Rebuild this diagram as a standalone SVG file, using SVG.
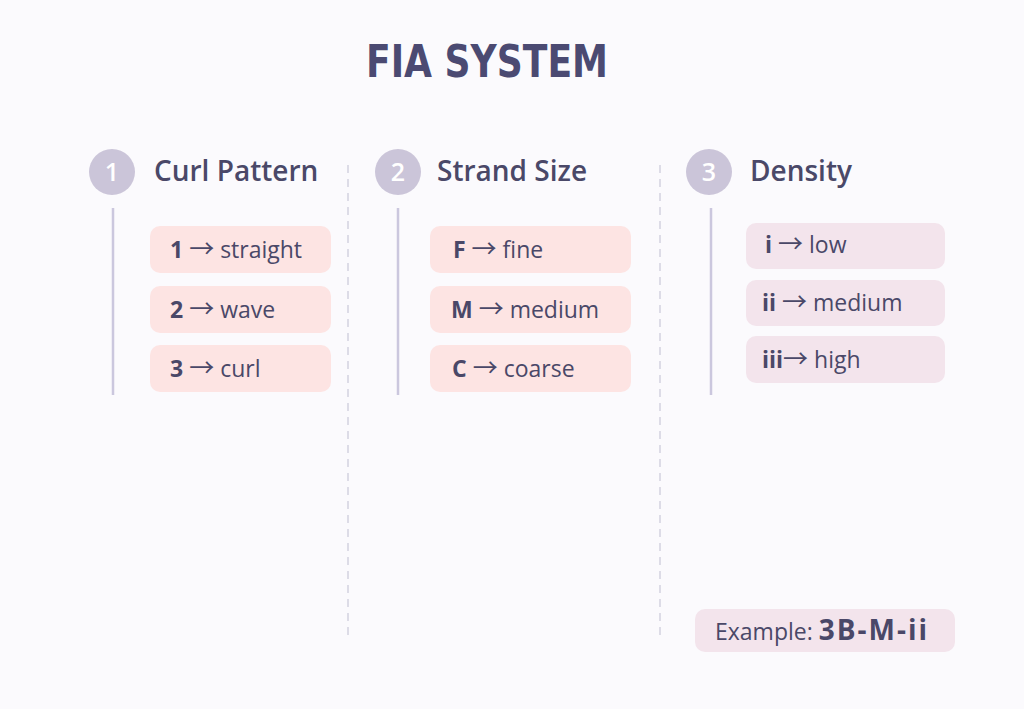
<svg xmlns="http://www.w3.org/2000/svg" width="1024" height="709" viewBox="0 0 1024 709">
<style>
.title{font-family:"DejaVu Sans Condensed","DejaVu Sans",sans-serif;font-weight:bold;font-size:45px;fill:#4b4a72}
.head{font-family:"Open Sans",sans-serif;font-weight:600;font-size:28px;fill:#4a4868}
.num{font-family:"Open Sans",sans-serif;font-weight:600;font-size:25px;fill:#ffffff}
.circ{fill:#cbc5d9}
.rail{stroke:#cbc7de;stroke-width:2.5}
.sep{stroke:#d4d2e0;stroke-width:1.5;stroke-dasharray:8 6}
.boxA{fill:#fde4e3}
.boxB{fill:#f3e4ec}
.item{font-family:"Open Sans",sans-serif;font-size:23px;fill:#4a4868}
.b{font-weight:bold}
.ar{font-family:"Noto Sans CJK SC","DejaVu Sans",sans-serif;font-size:25px}
</style>
<rect width="1024" height="709" fill="#fbfafd"/>
<text class="title" x="366" y="77" textLength="242" lengthAdjust="spacingAndGlyphs">FIA SYSTEM</text>
<g id="connectors">
<line class="sep" x1="348" y1="165" x2="348" y2="636"/>
<line class="sep" x1="660" y1="165" x2="660" y2="636"/>
<line class="rail" x1="113" y1="208" x2="113" y2="395"/>
<line class="rail" x1="398" y1="208" x2="398" y2="395"/>
<line class="rail" x1="711" y1="208" x2="711" y2="395"/>
</g>
<g id="col1">
<circle class="circ" cx="112" cy="172" r="23"/>
<text class="num" x="112" y="181" text-anchor="middle">1</text>
<text class="head" x="154" y="181">Curl Pattern</text>
</g>
<g id="c1-1"><rect class="boxA" x="150" y="226" width="181" height="47" rx="10"/><text class="item" x="170" y="258"><tspan class="b">1</tspan> <tspan class="ar">→</tspan> straight</text></g>
<g id="c1-2"><rect class="boxA" x="150" y="286" width="181" height="47" rx="10"/><text class="item" x="170" y="318"><tspan class="b">2</tspan> <tspan class="ar">→</tspan> wave</text></g>
<g id="c1-3"><rect class="boxA" x="150" y="345" width="181" height="47" rx="10"/><text class="item" x="170" y="377"><tspan class="b">3</tspan> <tspan class="ar">→</tspan> curl</text></g>
<g id="col2">
<circle class="circ" cx="398" cy="172" r="23"/>
<text class="num" x="398" y="181" text-anchor="middle">2</text>
<text class="head" x="437" y="181">Strand Size</text>
</g>
<g id="c2-1"><rect class="boxA" x="430" y="226" width="201" height="47" rx="10"/><text class="item" x="453" y="258"><tspan class="b">F</tspan> <tspan class="ar">→</tspan> fine</text></g>
<g id="c2-2"><rect class="boxA" x="430" y="286" width="201" height="47" rx="10"/><text class="item" x="451" y="318"><tspan class="b">M</tspan> <tspan class="ar">→</tspan> medium</text></g>
<g id="c2-3"><rect class="boxA" x="430" y="345" width="201" height="47" rx="10"/><text class="item" x="452" y="377"><tspan class="b">C</tspan> <tspan class="ar">→</tspan> coarse</text></g>
<g id="col3">
<circle class="circ" cx="709" cy="172" r="23"/>
<text class="num" x="709" y="181" text-anchor="middle">3</text>
<text class="head" x="750" y="181">Density</text>
</g>
<g id="c3-1"><rect class="boxB" x="746" y="223" width="199" height="46" rx="10"/><text class="item" x="765" y="253"><tspan class="b">i</tspan> <tspan class="ar">→</tspan> low</text></g>
<g id="c3-2"><rect class="boxB" x="746" y="280" width="199" height="46" rx="10"/><text class="item" x="762" y="311"><tspan class="b">ii</tspan> <tspan class="ar">→</tspan> medium</text></g>
<g id="c3-3"><rect class="boxB" x="746" y="336" width="199" height="47" rx="10"/><text class="item" x="762" y="368"><tspan class="b">iii</tspan><tspan class="ar">→</tspan> high</text></g>
<g id="example"><rect class="boxB" x="695" y="609" width="260" height="43" rx="10"/><text class="item" x="715" y="640" font-size="26">Example: <tspan class="b" font-size="28" letter-spacing="2">3B-M-ii</tspan></text></g>
</svg>
